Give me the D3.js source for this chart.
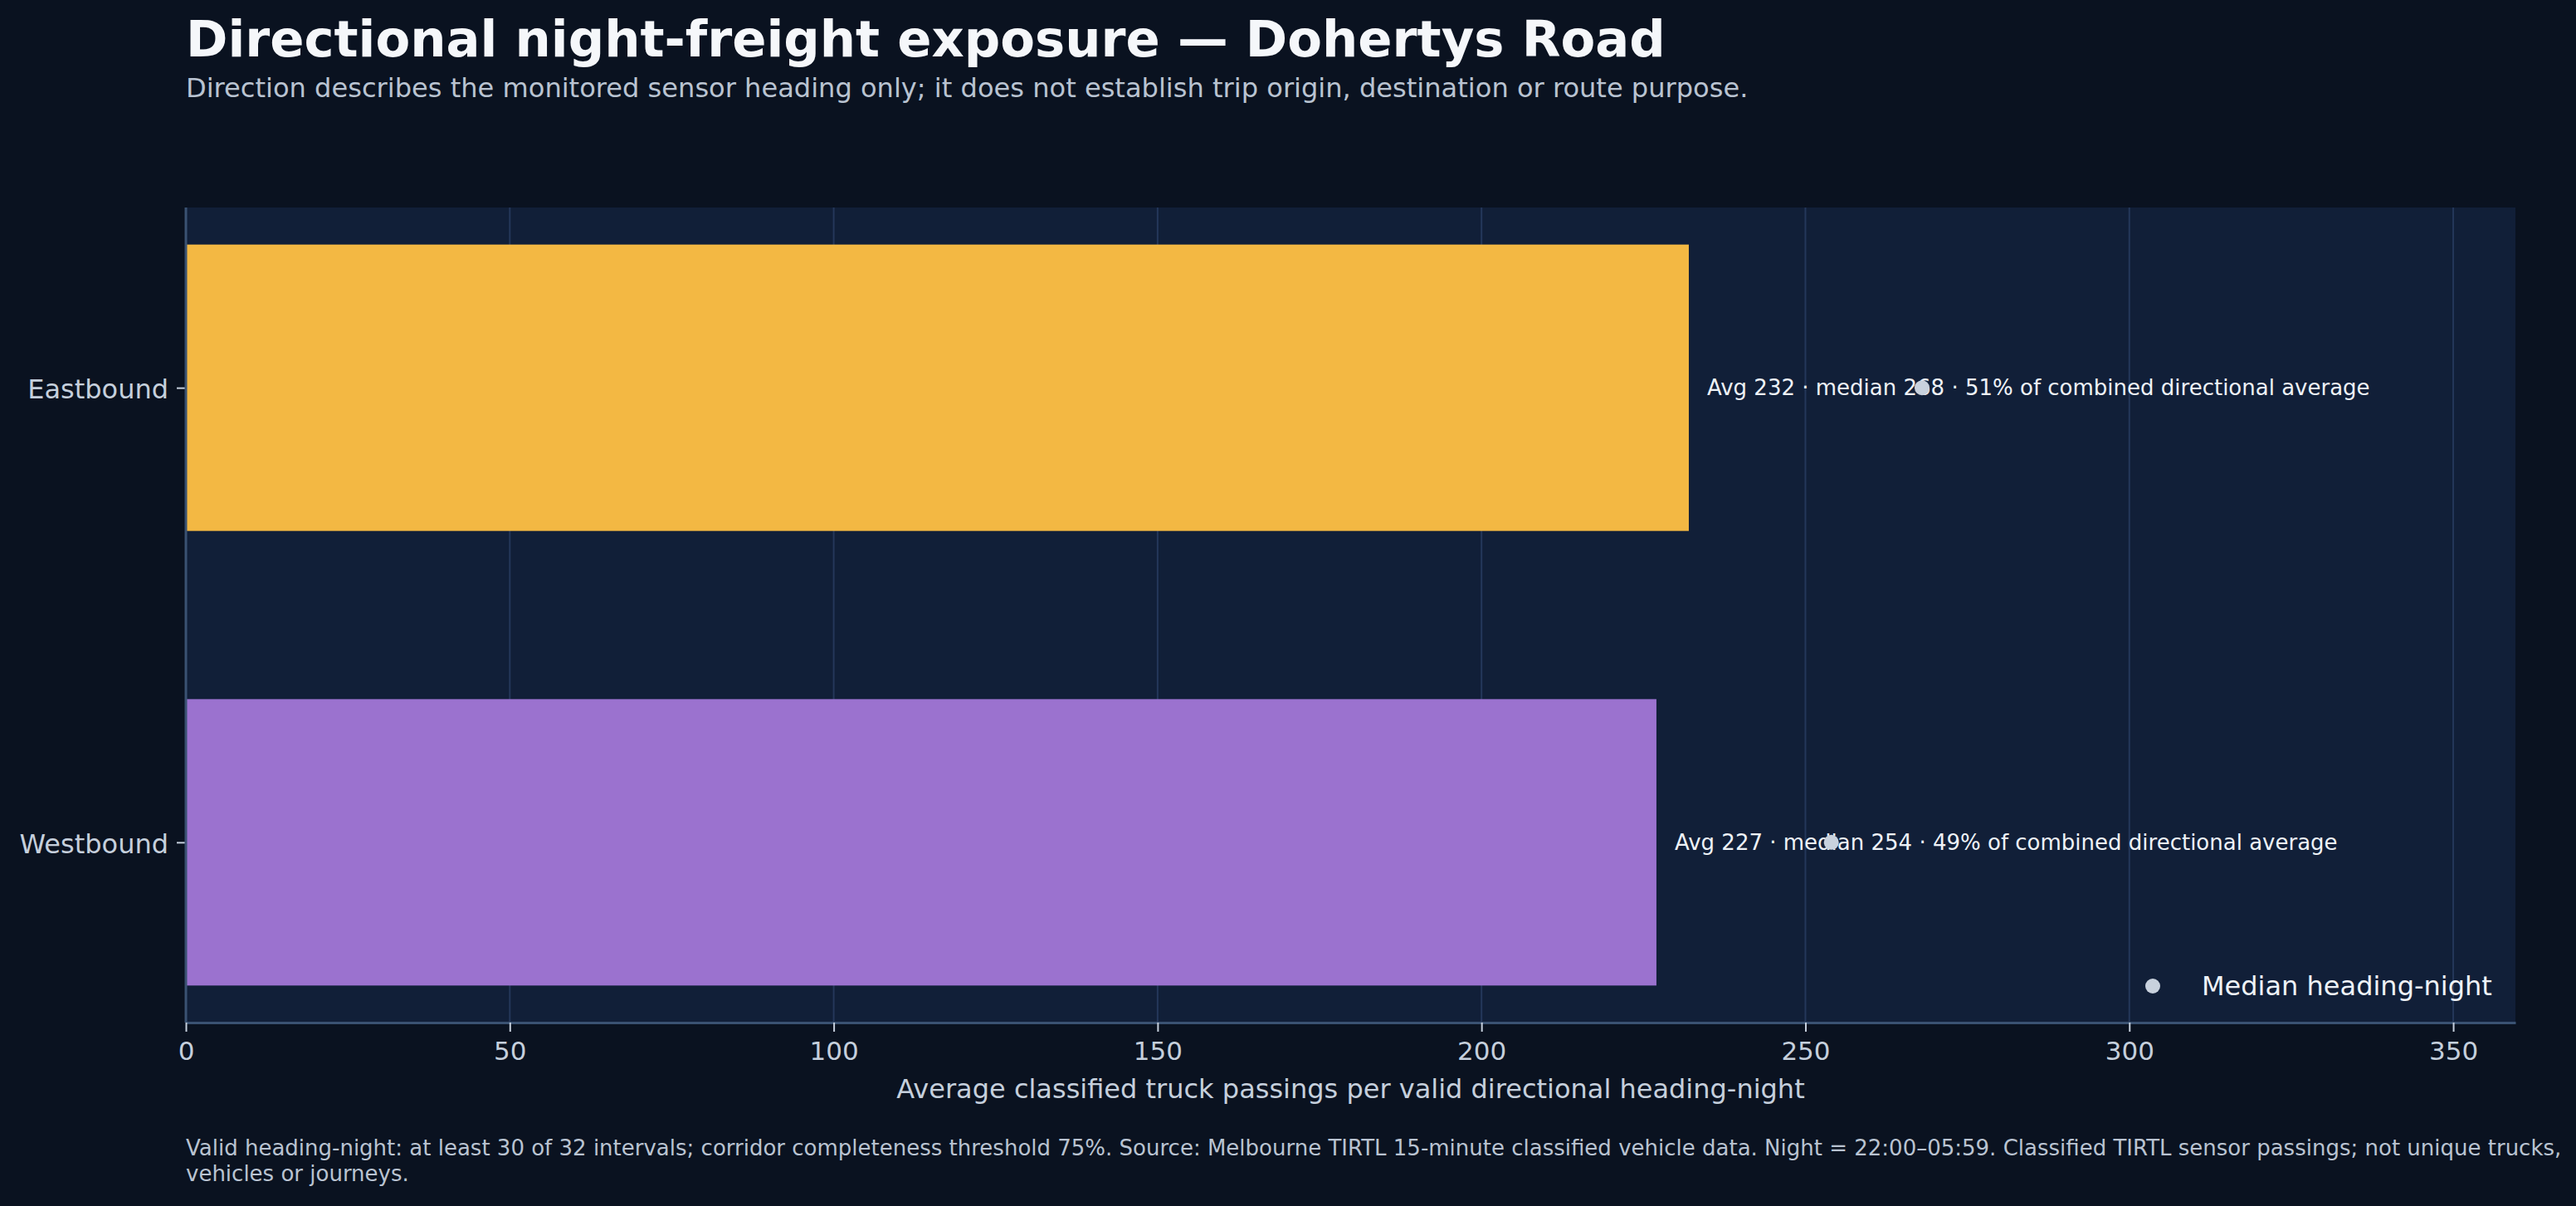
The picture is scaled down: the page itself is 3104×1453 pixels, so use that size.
<!DOCTYPE html>
<head>
  <meta charset="utf-8">
  <script src="https://d3js.org/d3.v7.min.js"></script>
  <style>
    body { margin:0; background:#0a1220; font-family: "DejaVu Sans", sans-serif; }
  </style>
</head>
<body>
  <script>
    // chart values
    var directions = ["Eastbound", "Westbound"];
    var avgPassings = [232, 227];
    var medianPassings = [268, 254];
    var shareOfCombined = [51, 49];
    var barColors = ["#f3b843", "#9b72cf"];
    var xTicks = [0, 50, 100, 150, 200, 250, 300, 350];
    var xMax = 359.6;

    var titleText = "Directional night-freight exposure \u2014 Dohertys Road";
    var subtitleText = "Direction describes the monitored sensor heading only; it does not establish trip origin, destination or route purpose.";
    var xLabel = "Average classified truck passings per valid directional heading-night";
    var footerLines = [
      "Valid heading-night: at least 30 of 32 intervals; corridor completeness threshold 75%. Source: Melbourne TIRTL 15-minute classified vehicle data. Night = 22:00\u201305:59. Classified TIRTL sensor passings; not unique trucks,",
      "vehicles or journeys."
    ];

    var W = 3104, H = 1453;
    var margin = { top: 250, right: 73, bottom: 221, left: 224 };
    var width = W - margin.left - margin.right;
    var height = H - margin.top - margin.bottom;

    var data = directions.map(function(d, i) {
      return { dir: d, idx: i, avg: avgPassings[i], median: medianPassings[i], share: shareOfCombined[i], color: barColors[i] };
    });

    var svg = d3.select("body").append("svg")
      .attr("width", W)
      .attr("height", H);

    svg.append("rect").attr("width", W).attr("height", H).attr("fill", "#0a1220");

    var g = svg.append("g")
      .attr("transform", "translate(" + margin.left + "," + margin.top + ")");

    var x = d3.scaleLinear().domain([0, xMax]).range([0, width]);

    // bar height in category units, plus 5% padding like matplotlib
    var barH = 0.63;
    var pad = 0.05 * (1 + barH);
    var y = d3.scaleLinear()
      .domain([-barH / 2 - pad, (directions.length - 1) + barH / 2 + pad])
      .range([0, height]);

    g.append("rect")
      .attr("width", width)
      .attr("height", height)
      .attr("fill", "#111f38");

    // grid
    g.selectAll(".grid")
      .data(xTicks)
      .enter()
      .append("line")
      .attr("class", "grid")
      .attr("x1", function(d) { return x(d); })
      .attr("x2", function(d) { return x(d); })
      .attr("y1", 0)
      .attr("y2", height)
      .attr("stroke", "#24375a")
      .attr("stroke-width", 2);

    // bars
    g.selectAll(".bar")
      .data(data)
      .enter()
      .append("rect")
      .attr("class", "bar")
      .attr("x", x(0))
      .attr("y", function(d) { return y(d.idx - barH / 2); })
      .attr("width", function(d) { return x(d.avg) - x(0); })
      .attr("height", function(d) { return y(d.idx + barH / 2) - y(d.idx - barH / 2); })
      .attr("fill", function(d) { return d.color; });

    // value labels
    g.selectAll(".note")
      .data(data)
      .enter()
      .append("text")
      .attr("class", "note")
      .attr("x", function(d) { return x(d.avg) + 22; })
      .attr("y", function(d) { return y(d.idx); })
      .attr("dy", "0.35em")
      .style("font-size", "26px")
      .style("fill", "#eef2f7")
      .text(function(d) {
        return "Avg " + d.avg + " \u00b7 median " + d.median + " \u00b7 " + d.share + "% of combined directional average";
      });

    // median markers
    g.selectAll(".median")
      .data(data)
      .enter()
      .append("circle")
      .attr("class", "median")
      .attr("cx", function(d) { return x(d.median); })
      .attr("cy", function(d) { return y(d.idx); })
      .attr("r", 9)
      .attr("fill", "#c8d1dd");

    // axes
    var xAxis = d3.axisBottom(x).tickValues(xTicks).tickSize(11).tickSizeOuter(0).tickPadding(12).tickFormat(d3.format("d"));
    var xg = g.append("g")
      .attr("transform", "translate(0," + height + ")")
      .call(xAxis);
    xg.select(".domain").attr("stroke", "#3a5272").attr("stroke-width", 3);
    xg.selectAll(".tick line").attr("stroke", "#c5cfdc").attr("stroke-width", 2);
    xg.selectAll(".tick text").style("font-size", "31px").style("fill", "#c5cfdc").style("font-family", "DejaVu Sans");

    var yAxis = d3.axisLeft(y).tickValues(data.map(function(d) { return d.idx; }))
      .tickFormat(function(i) { return directions[i]; })
      .tickSize(11).tickPadding(10);
    var yg = g.append("g").call(yAxis);
    yg.select(".domain").remove();
    g.append("line")
      .attr("x1", 0).attr("x2", 0).attr("y1", 0).attr("y2", height)
      .attr("stroke", "#3a5272").attr("stroke-width", 3);
    yg.selectAll(".tick line").attr("stroke", "#c5cfdc").attr("stroke-width", 2);
    yg.selectAll(".tick text")
      .attr("dy", "0.4em")
      .style("font-size", "32px").style("fill", "#c5cfdc").style("font-family", "DejaVu Sans");

    g.append("text")
      .attr("x", width / 2)
      .attr("y", height + 91)
      .attr("text-anchor", "middle")
      .style("font-size", "32px")
      .style("fill", "#c5cfdc")
      .text(xLabel);

    // legend
    var legend = g.append("g")
      .attr("transform", "translate(" + (width - 437) + "," + (height - 44) + ")");
    legend.append("circle").attr("cx", 0).attr("cy", 0).attr("r", 9).attr("fill", "#c8d1dd");
    legend.append("text")
      .attr("x", 59)
      .attr("y", 0)
      .attr("dy", "0.35em")
      .style("font-size", "32px")
      .style("fill", "#eef2f7")
      .text("Median heading-night");

    // titles
    svg.append("text")
      .attr("x", margin.left)
      .attr("y", 68)
      .style("font-size", "60.8px")
      .style("font-weight", "bold")
      .style("fill", "#f5f7fa")
      .text(titleText);

    svg.append("text")
      .attr("x", margin.left)
      .attr("y", 117)
      .style("font-size", "32.1px")
      .style("fill", "#b9c3d1")
      .text(subtitleText);

    // footer
    svg.append("text")
      .attr("x", margin.left)
      .attr("y", 1392)
      .style("font-size", "26px")
      .style("fill", "#b9c3d1")
      .selectAll("tspan")
      .data(footerLines)
      .enter()
      .append("tspan")
      .attr("x", margin.left)
      .attr("dy", function(d, i) { return i === 0 ? 0 : 31; })
      .text(function(d) { return d; });
  </script>
</body>
